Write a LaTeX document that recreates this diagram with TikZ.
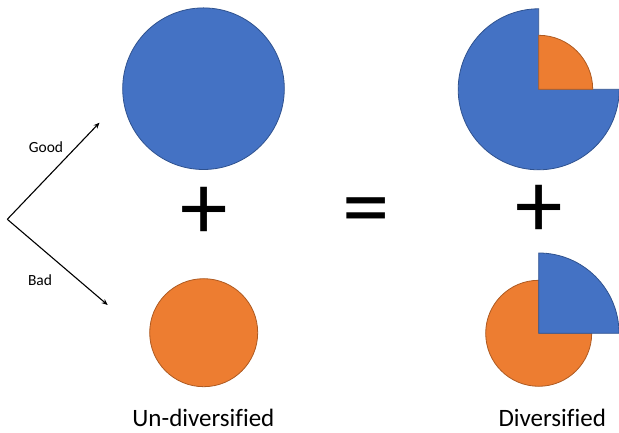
\documentclass[tikz,border=0pt]{standalone}
\usepackage{fontspec}
\setmainfont[Ligatures=NoCommon]{Carlito}
\usetikzlibrary{arrows.meta}
\definecolor{pblue}{HTML}{4472C4}
\definecolor{porange}{HTML}{ED7D31}
\definecolor{bline}{HTML}{2F528F}
\definecolor{oline}{HTML}{AE5A21}
\tikzset{
  bluefill/.style={fill=pblue, draw=bline, line width=0.8pt},
  orangefill/.style={fill=porange, draw=oline, line width=0.8pt},
  lbl/.style={inner sep=0pt, font=\fontsize{25}{30}\selectfont, anchor=base},
  small/.style={inner sep=0pt, font=\fontsize{15.5}{18}\selectfont},
  sym/.style={inner sep=0pt, font=\fontsize{95}{105}\selectfont},
  arr/.style={line width=1.1pt, -{Stealth[length=6pt,width=5pt]}}
}
\begin{document}
\begin{tikzpicture}[x=1pt,y=1pt]
\path[use as bounding box] (0,0) rectangle (619,433);
% left: un-diversified
\node[circle, bluefill, minimum size=161.6pt, inner sep=0pt] (bigblue) at (203.5,344.3) {};
\node[circle, orangefill, minimum size=108pt, inner sep=0pt] (smallorange) at (203.7,100.3) {};
% arrows
\coordinate (v) at (7.3,213.7);
\coordinate (up) at (99.5,310.3);
\coordinate (dn) at (107.7,128);
\draw[arr] (v) -- (up);
\draw[arr] (v) -- (dn);
\node[small] (good) at (46,285.7) {Good};
\node[small] (bad) at (40,153) {Bad};
% symbols
\node[sym] (plus1) at (203.7,220) {+};
\node[sym] (eq) at (366.3,214.5) {=};
\node[sym] (plus2) at (538.8,221.8) {+};
% right top
\coordinate (ct) at (538.7,343.7);
\path[bluefill] (ct) -- ++(90:80.5pt) arc[start angle=90, end angle=360, radius=80.5pt] -- cycle;
\path[orangefill] (ct) -- ++(0:54pt) arc[start angle=0, end angle=90, radius=54pt] -- cycle;
% right bottom
\coordinate (cb) at (538.7,99.7);
\path[orangefill] (cb) -- ++(90:53pt) arc[start angle=90, end angle=360, radius=53pt] -- cycle;
\path[bluefill] (cb) -- ++(0:80.3pt) arc[start angle=0, end angle=90, radius=80.3pt] -- cycle;
% labels
\node[lbl] (undiv) at (203.4,6) {Un-diversified};
\node[lbl] (div) at (552.2,6) {Diversified};
\end{tikzpicture}
\end{document}
